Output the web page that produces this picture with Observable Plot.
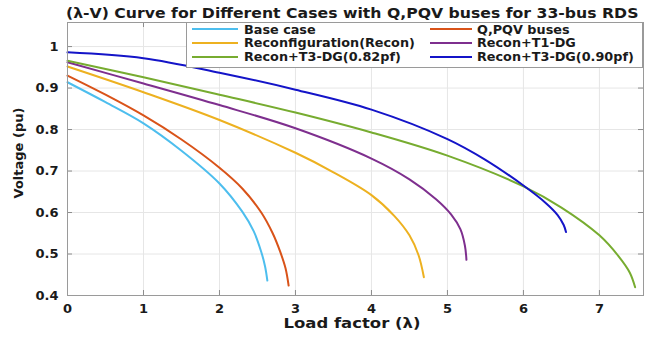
<!DOCTYPE html>
<html>
<head>
<meta charset="utf-8">
<script src="https://cdn.jsdelivr.net/npm/d3@7"></script>
<script src="https://cdn.jsdelivr.net/npm/@observablehq/plot@0.6"></script>
<style>
  body { margin: 0; background: #fff; }
  #chart { position: relative; width: 645px; height: 342px; overflow: hidden;
           font-family: "DejaVu Sans", sans-serif; color: #1a1a1a; }
  #chart svg text { font-weight: bold; }
  #pv-title { position: absolute; left: 66px; top: 5px; font-size: 14px; font-weight: bold; white-space: nowrap;
              transform: scaleX(1.12); transform-origin: 0 50%; }
  #pv-xlabel { position: absolute; left: 352px; top: 315px; font-size: 14.5px; font-weight: bold; white-space: nowrap;
               transform: translateX(-50%) scaleX(1.135); }
  #pv-ylabel { position: absolute; left: 18px; top: 153px; font-size: 13px; font-weight: bold; white-space: nowrap;
               transform: translate(-50%, -50%) rotate(-90deg); }
  #pv-legend { position: absolute; left: 186px; top: 22px; width: 457px; height: 46px; background: #fff;
               border: 1px solid #9a9a9a; box-sizing: border-box; font-size: 12.8px; font-weight: bold; }
  .pv-item { position: absolute; height: 14px; display: flex; align-items: center; white-space: nowrap; }
</style>
</head>
<body>
<div id="chart"></div>
<script>
// Load factor (λ) and bus voltage (pu) for each case, 33-bus radial distribution system
const lambdaBase = [0, 0.5, 1, 1.5, 2, 2.3, 2.45, 2.55, 2.6, 2.63];
const voltBase   = [0.914, 0.866, 0.815, 0.749, 0.670, 0.602, 0.555, 0.505, 0.47, 0.436];

const lambdaQPQV = [0, 0.5, 1, 1.5, 2, 2.3, 2.55, 2.7, 2.8, 2.87, 2.91];
const voltQPQV   = [0.93, 0.884, 0.834, 0.776, 0.708, 0.658, 0.6, 0.55, 0.505, 0.465, 0.424];

const lambdaRecon = [0, 1, 2, 3, 3.5, 4, 4.3, 4.5, 4.62, 4.69];
const voltRecon   = [0.952, 0.89, 0.823, 0.744, 0.697, 0.642, 0.592, 0.545, 0.497, 0.444];

const lambdaT1 = [0, 1, 2, 3, 4, 4.5, 4.85, 5.05, 5.17, 5.23, 5.25];
const voltT1   = [0.962, 0.911, 0.859, 0.803, 0.73, 0.68, 0.632, 0.595, 0.56, 0.52, 0.486];

const lambdaT3a = [0, 1, 2, 3, 4, 5, 6, 6.5, 7, 7.25, 7.4, 7.47];
const voltT3a   = [0.966, 0.926, 0.884, 0.841, 0.793, 0.737, 0.663, 0.612, 0.545, 0.495, 0.455, 0.42];

const lambdaT3b = [0, 1, 2, 3, 4, 5, 5.5, 6, 6.3, 6.45, 6.53, 6.56];
const voltT3b   = [0.986, 0.972, 0.937, 0.896, 0.848, 0.777, 0.727, 0.665, 0.622, 0.594, 0.57, 0.553];

const caseNames = ["Base case", "Q,PQV buses", "Reconfiguration(Recon)", "Recon+T1-DG",
                   "Recon+T3-DG(0.82pf)", "Recon+T3-DG(0.90pf)"];
const caseColors = ["#4DBEEE", "#D95319", "#EDB120", "#7E2F8E", "#77AC30", "#1414C8"];

const xTicks = [0, 1, 2, 3, 4, 5, 6, 7];
const yTicks = [0.4, 0.5, 0.6, 0.7, 0.8, 0.9, 1.0];

const series = [
  [lambdaBase, voltBase], [lambdaQPQV, voltQPQV], [lambdaRecon, voltRecon],
  [lambdaT1, voltT1], [lambdaT3a, voltT3a], [lambdaT3b, voltT3b]
];
const rows = series.flatMap(([xs, vs], i) =>
  xs.map((x, j) => ({case: caseNames[i], lambda: x, v: vs[j]})));

const W = 645, H = 342, ML = 67, MR = 2, MT = 22, MB = 47;
const frameW = W - ML - MR, frameH = H - MT - MB, tickLen = 5;

const plot = Plot.plot({
  width: W,
  height: H,
  marginLeft: ML,
  marginRight: MR,
  marginTop: MT,
  marginBottom: MB,
  style: {fontFamily: "DejaVu Sans, sans-serif", fontSize: "13px", color: "#1a1a1a", background: "#fff"},
  x: {domain: [0, 7.58]},
  y: {domain: [0.4, 1.058]},
  color: {domain: caseNames, range: caseColors},
  marks: [
    Plot.gridX(xTicks, {stroke: "#e6e6e6", strokeOpacity: 1}),
    Plot.gridY(yTicks, {stroke: "#e6e6e6", strokeOpacity: 1}),
    Plot.axisX(xTicks, {tickSize: 0, tickPadding: 8, label: null, tickFormat: d => String(d)}),
    Plot.axisY(yTicks, {tickSize: 0, tickPadding: 9, label: null, tickFormat: d => String(+d.toFixed(1))}),
    // inward tick marks on all four sides of the box
    Plot.ruleX(xTicks, {x: d => d, insetTop: frameH - tickLen, stroke: "#8c8c8c"}),
    Plot.ruleX(xTicks, {x: d => d, insetBottom: frameH - tickLen, stroke: "#8c8c8c"}),
    Plot.ruleY(yTicks, {y: d => d, insetRight: frameW - tickLen, stroke: "#8c8c8c"}),
    Plot.ruleY(yTicks, {y: d => d, insetLeft: frameW - tickLen, stroke: "#8c8c8c"}),
    Plot.line(rows, {x: "lambda", y: "v", stroke: "case", strokeWidth: 2, curve: "catmull-rom"}),
    Plot.frame({stroke: "#9a9a9a"})
  ]
});

const chart = document.getElementById("chart");
chart.appendChild(plot);

const title = document.createElement("div");
title.id = "pv-title";
title.textContent = "(λ-V) Curve for Different Cases with Q,PQV buses for 33-bus RDS";
chart.appendChild(title);

const xl = document.createElement("div");
xl.id = "pv-xlabel";
xl.textContent = "Load factor (λ)";
chart.appendChild(xl);

const yl = document.createElement("div");
yl.id = "pv-ylabel";
yl.textContent = "Voltage (pu)";
chart.appendChild(yl);

// legend box: two columns, three rows
const legend = document.createElement("div");
legend.id = "pv-legend";
const colLeft = [5, 243], colLine = [46, 42], colGap = [6, 5];
caseNames.forEach((name, i) => {
  const col = i % 2, row = Math.floor(i / 2);
  const item = document.createElement("div");
  item.className = "pv-item";
  item.style.left = colLeft[col] + "px";
  item.style.top = (-1 + row * 13.9) + "px";
  item.innerHTML = `<svg width="${colLine[col]}" height="4" style="margin-right:${colGap[col]}px"><line x1="0" x2="${colLine[col]}" y1="2" y2="2" stroke="${caseColors[i]}" stroke-width="2"/></svg><span>${name}</span>`;
  legend.appendChild(item);
});
chart.appendChild(legend);
</script>
</body>
</html>
